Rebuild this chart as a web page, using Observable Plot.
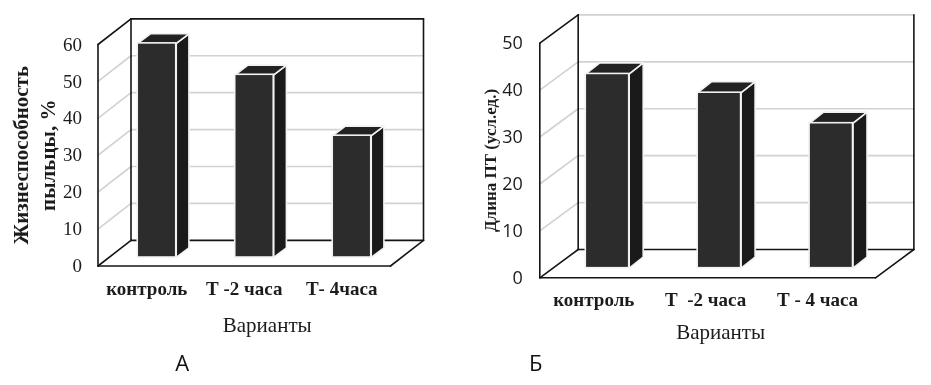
<!DOCTYPE html>
<html><head><meta charset="utf-8">
<script src="https://cdn.jsdelivr.net/npm/d3@7"></script>
<script src="https://cdn.jsdelivr.net/npm/@observablehq/plot@0.6"></script>
<style>
html,body{margin:0;padding:0;background:#fff}
#root{position:relative;width:931px;height:385px;overflow:hidden}
#root svg{position:absolute;top:0;overflow:visible;background:transparent;filter:blur(0.4px)}
</style></head>
<body><div id="root"></div>
<script>
const categoriesA = ["контроль", "Т -2 часа", "Т- 4часа"];
const valuesA = [58, 49.5, 33];
const ticksA = [0, 10, 20, 30, 40, 50, 60];
const categoriesB = ["контроль", "Т  -2 часа", "Т - 4 часа"];
const valuesB = [41.4, 37.4, 30.9];
const ticksB = [0, 10, 20, 30, 40, 50];

const SERIF = "'Liberation Serif','Times New Roman',serif";
const SANS = "'Open Sans',sans-serif";
const INK = "#1c1c1c";

function panel(c) {
  const n = c.categories.length, top = c.ticks[c.ticks.length - 1];
  const B = (x, y) => ({x: x + c.depthX, y: y + c.depthY});
  const seg = (a, b, z) => [{...a, z}, {...b, z}];
  const grid = c.ticks.slice(1, -1).flatMap((t, i) => [
    ...seg({x: 0, y: t}, B(0, t), "s" + i),
    ...seg(B(0, t), B(n, t), "b" + i)
  ]);
  if (c.greyTop) grid.push(...seg(B(0, top), B(n, top), "top"));
  const frame = [
    ...seg({x: 0, y: 0}, {x: 0, y: top}, "a"),
    ...seg({x: 0, y: top}, B(0, top), "b"),
    ...seg(B(0, 0), B(0, top), "c"),
    ...seg(B(n, 0), B(n, top), "d"),
    ...seg({x: 0, y: 0}, {x: n, y: 0}, "e"),
    ...seg({x: 0, y: 0}, B(0, 0), "f"),
    ...seg({x: n, y: 0}, B(n, 0), "g"),
    ...seg(B(0, 0), B(n, 0), "h"),
    ...(c.greyTop ? [] : seg(B(0, top), B(n, top), "i"))
  ];
  const bars = c.values.map((v, i) => {
    const x2 = i + c.barCenter + c.barWidth / 2;
    return {x1: x2 - c.barWidth, x2, y1: c.barBase, y2: c.barBase + v};
  });
  const poly = (f) => bars.flatMap((b, i) => f(b).map(([x, y]) => ({x, y, z: i})));
  const topFace = poly(b => [[b.x1, b.y2], [b.x2, b.y2], [b.x2 + c.barDX, b.y2 + c.barDY], [b.x1 + c.barDX, b.y2 + c.barDY], [b.x1, b.y2]]);
  const sideFace = poly(b => [[b.x2, b.y1], [b.x2, b.y2], [b.x2 + c.barDX, b.y2 + c.barDY], [b.x2 + c.barDX, b.y1 + c.barDY], [b.x2, b.y1]]);
  const faces = {x: "x", y: "y", z: "z", stroke: "#f2f2f2", strokeWidth: 1.6, curve: "linear", strokeLinejoin: "miter"};

  return Plot.plot({
    width: c.width, height: 385,
    marginLeft: c.left, marginRight: c.width - c.right, marginTop: c.yTop, marginBottom: 385 - c.yZero,
    x: {type: "linear", domain: [0, n], axis: null},
    y: {type: "linear", domain: [0, top], axis: null},
    style: {background: "transparent", overflow: "visible"},
    marks: [
      Plot.line(grid, {x: "x", y: "y", z: "z", stroke: "#d2d2d2", strokeWidth: 1.7}),
      Plot.line(frame, {x: "x", y: "y", z: "z", stroke: "#151515", strokeWidth: 1.6}),
      Plot.axisY({ticks: c.ticks, tickSize: 0, tickPadding: c.tickPad, label: null, fontSize: c.tickFont, fontFamily: c.tickFamily, fill: INK, anchor: "left"}),
      Plot.axisX({ticks: c.categories.map((_, i) => i + 0.5), tickFormat: d => c.categories[Math.floor(d)], tickSize: 0, tickPadding: c.catPad, dx: c.catDX, label: null, fontSize: c.catFont, fontFamily: SERIF, fontWeight: "bold", fill: INK, anchor: "bottom"}),
      Plot.line(sideFace, {...faces, fill: "#1a1a1a"}),
      Plot.line(topFace, {...faces, fill: "#222222"}),
      Plot.rect(bars, {x1: "x1", x2: "x2", y1: "y1", y2: "y2", fill: "#2c2c2c", stroke: "#f2f2f2", strokeWidth: 1.6}),
      Plot.text([c.yLabel], {text: d => d, frameAnchor: "left", textAnchor: "middle", dx: c.yLabelDX, dy: c.yLabelDY, rotate: -90, fontFamily: SERIF, fontWeight: "bold", fontSize: c.yLabelFont, lineHeight: 1.3, fill: INK}),
      Plot.text(["Варианты"], {text: d => d, frameAnchor: "bottom", dx: c.xLabelDX, dy: c.xLabelDY, fontFamily: SERIF, fontSize: c.xLabelFont, fill: INK}),
      Plot.text([c.letter], {text: d => d, frameAnchor: "bottom", dx: c.letterDX, dy: c.letterDY, fontFamily: SANS, fontSize: 22, fill: "#111"})
    ]
  });
}

const a = panel({
  categories: categoriesA, values: valuesA, ticks: ticksA, width: 465,
  left: 97.5, right: 390, yZero: 265.5, yTop: 44, depthX: 0.3385, depthY: 6.95,
  barCenter: 0.605, barWidth: 0.395, barBase: 2.3, barDX: 0.13, barDY: 2.6,
  tickPad: 16, tickFont: 19, tickFamily: SERIF, catPad: 15, catFont: 19, catDX: 0,
  yLabel: "Жизнеспособность\nпыльцы, %", yLabelDX: -65, yLabelDY: 0, yLabelFont: 21,
  xLabelDX: 23, xLabelDY: 66, xLabelFont: 21, letter: "А", letterDX: -62, letterDY: 105
});
const b = panel({
  categories: categoriesB, values: valuesB, ticks: ticksB, width: 466, greyTop: true,
  left: 74.3, right: 410, yZero: 277.3, yTop: 42.7, depthX: 0.343, depthY: 6.03,
  barCenter: 0.605, barWidth: 0.388, barBase: 2.05, barDX: 0.125, barDY: 2.35,
  tickPad: 17, tickFont: 18, tickFamily: SANS, catPad: 15, catFont: 19, catDX: -2,
  yLabel: "Длина ПТ (усл.ед.)", yLabelDX: -51, yLabelDY: 0, yLabelFont: 17,
  xLabelDX: 13, xLabelDY: 61, xLabelFont: 21, letter: "Б", letterDX: -172, letterDY: 93
});
a.style.left = "0px"; b.style.left = "465px";
document.getElementById("root").append(a, b);
</script>
</body></html>
